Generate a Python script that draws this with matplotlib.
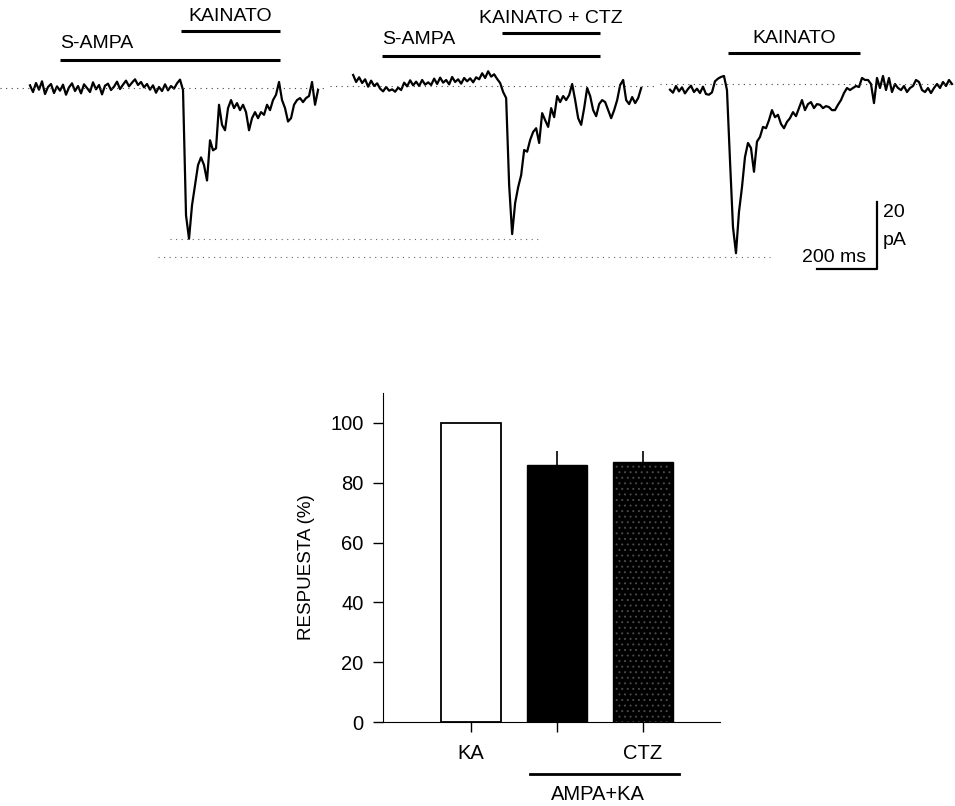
import numpy as np
import matplotlib
matplotlib.use("Agg")
import matplotlib.pyplot as plt

plt.rcParams['font.family'] = ['Liberation Sans', 'DejaVu Sans']
plt.rcParams['hatch.linewidth'] = 0.7

"""Data"""
# current traces, pA, one sample every 10 ms
dt = 10.0
trace_ka = [0.8, -1.2, 1.5, -0.5, 2.0, -1.8, 0.3, 1.2, -1.5, 0.5, -0.8, 1.0, -2.0, 0.2,
            1.4, -0.9, 0.6, -1.6, 1.1, 0.0, -1.2, 1.7, -0.4, 0.9, -1.9, 0.7, 1.3, -0.6,
            0.4, 1.9, -0.3, 1.0, 2.2, 0.5, 1.6, 2.6, 0.9, 1.8, 0.2, 1.2, -0.5, 0.8, -1.4,
            0.3, -0.9, 1.1, -0.7, 0.6, -0.2, 1.4, 2.5,
            -0.6, -38, -45, -35, -29, -23, -20.7, -23, -27.6, -15.6, -18.6, -18, -5, -11,
            -12.6, -6, -3.6, -6, -4.5, -6.6, -5, -7.2, -12.6, -9, -7.2, -9, -7.2, -8, -5,
            -6.6, -3.6, -2, 1.8, -3.6, -6, -10, -9, -5, -3.6, -3, -4.2, -3, -2.4, 1.8, -5,
            -0.6]
trace_ctz = [3.9, 1.8, 3.2, 1.5, 2.6, 0.4, 2.2, 0.6, 1.4, -0.2, -1.0, 0.3, -0.8, -0.4,
             -1.1, 0.1, -0.6, 1.6, 0.5, 2.3, 0.8, 1.9, 0.6, 2.4, 1.0, 1.7, 0.9, 2.8, 1.2,
             3.1, 1.6, 2.4, 1.1, 3.3, 1.8, 2.6, 1.3, 3.0, 2.0, 2.9, 1.7, 3.2, 2.6, 4.4, 3.0,
             5.0, 3.4, 4.1, 2.7, 1.5,
             -1.2, -3, -29, -43.6, -34.3, -29.6, -26, -18.5, -19, -15.5, -13.1, -12, -16.4,
             -7.5, -9.6, -11.6, -6, -8.7, -2.4, -4.2, -2.4, -3.6, -2.1, 1.2, -3.6, -9, -11,
             -6, 0, -2.4, -6.6, -8.4, -4.8, -3.6, -4.2, -6.6, -9, -6.6, -3.6, 0.9, 2.4,
             -3.6, -4.8, -2.7, -4.5, -3, 0]
trace_ka2 = [-0.5, -1.4, 0.6, -1.0, 0.2, -1.6, -0.3, 0.7, -1.2, -0.2, -1.5, 0.4, -1.8,
             -2.0, -1.3, 2.0, 2.8, 3.3, 3.6,
             -0.6, -21.5, -41.5, -49.3, -37, -29.6, -20.6, -16.4, -17.9, -25, -16, -14.6,
             -11.6, -12, -9.6, -6.6, -8.7, -8, -10.7, -12, -10.1, -9, -7.2, -8.4, -6,
             -3.6, -6.6, -4.8, -4.2, -6, -4.8, -5, -6, -5.4, -5.7, -6.6, -6.6, -5, -3.6,
             -1.5, 0, -0.6, 0, 0.6, 0.3, 3, 2.4, 2.4, 1.2, -4.5, 3, 0, 3.6, -0.6, 3, -1.2,
             1.2, 0, -0.6, 0.6, -1.2, 0, 0.6, 2.4, 1.8, -0.6, -1.2, 0, -1.5, 0, 1.2, 0,
             1.8, 0.6, 2.4, 1.2]
traces = [trace_ka, trace_ctz, trace_ka2]
trace_start = [100, 1177, 2233]          # ms
baselines = [0.0, 0.6, 1.2]              # pA
peak_levels = [-45.1, -50.4]             # pA

# drug application bars: (label, start ms, end ms, level pA)
applications = [("S-AMPA", 200, 933, 8.4), ("KAINATO", 603, 933, 17.0),
                ("S-AMPA", 1273, 2000, 9.6), ("KAINATO + CTZ", 1673, 2000, 16.4),
                ("KAINATO", 2427, 2867, 10.4)]
scale_ms = 200
scale_pa = 20

# summary bars
bar_labels = ["KA", "", "CTZ"]
bar_values = [100, 86, 87]
bar_errors = [0, 4.5, 3.5]

fig = plt.figure(figsize=(9.55, 8.06), dpi=100)

"""Top: traces"""
ax = fig.add_axes([0, 0.6526, 1, 0.3474])
ax.set_xlim(0, 3183)
ax.set_ylim(-57.3, 26.27)
ax.axis("off")

for vals, t0 in zip(traces, trace_start):
    t = t0 + dt * np.arange(len(vals))
    ax.plot(t, vals, color="black", lw=1.6)

dot = (0, (1, 4))
ax.plot([0, 1083], [baselines[0]] * 2, color="#444", lw=0.8, ls=dot)
ax.plot([1100, 2183], [baselines[1]] * 2, color="#444", lw=0.8, ls=dot)
ax.plot([2200, 3183], [baselines[2]] * 2, color="#444", lw=0.8, ls=dot)
ax.plot([567, 1793], [peak_levels[0]] * 2, color="#666", lw=0.8, ls=dot)
ax.plot([527, 2567], [peak_levels[1]] * 2, color="#666", lw=0.8, ls=dot)

for label, t_on, t_off, lev in applications:
    ax.plot([t_on, t_off], [lev, lev], color="black", lw=2.2, solid_capstyle="butt")
    if label == "S-AMPA":
        ax.text(t_on, lev + 5.0, label, ha="left", va="center", fontsize=14)
    else:
        ax.text((t_on + t_off) / 2, lev + 4.4, label, ha="center", va="center", fontsize=14)

# scale bar
sx, sy = 2923, -54
ax.plot([sx - scale_ms, sx, sx], [sy, sy, sy + scale_pa], color="black", lw=1.6)
ax.text(sx + 20, sy + 16.7, "20", ha="left", va="center", fontsize=14)
ax.text(sx + 20, sy + 8.6, "pA", ha="left", va="center", fontsize=14)
ax.text(sx - 36, sy + 3.3, "200 ms", ha="right", va="center", fontsize=14)

"""Bottom: bar chart"""
bx = fig.add_axes([0.401, 0.1042, 0.353, 0.4082])
pos = np.arange(len(bar_values))
bx.bar(pos[0], bar_values[0], width=0.70, color="white", edgecolor="black", lw=1.3)
bx.bar(pos[1], bar_values[1], width=0.70, color="black", edgecolor="black", lw=1.0)
bx.bar(pos[2], bar_values[2], width=0.70, color="black", edgecolor="black", lw=1.0)
bx.bar(pos[2], bar_values[2], width=0.66, color="none", edgecolor="#4a4a4a", lw=0, hatch="...")
bx.errorbar(pos[1:], bar_values[1:], yerr=[[0, 0], bar_errors[1:]], fmt="none",
            ecolor="black", elinewidth=1.2, capsize=0)

bx.set_xlim(-1.023, 2.895)
bx.set_ylim(0, 110)
bx.set_yticks([0, 20, 40, 60, 80, 100])
bx.set_xticks(pos)
bx.set_xticklabels(bar_labels)
bx.tick_params(axis="both", direction="out", length=7, width=1.0, labelsize=14.5)
bx.tick_params(axis="x", pad=9)
bx.tick_params(axis="y", pad=7)
bx.spines["top"].set_visible(False)
bx.spines["right"].set_visible(False)
bx.set_ylabel("RESPUESTA (%)", fontsize=13.5)
bx.yaxis.set_label_coords(-0.202, 0.47)

bx.plot([0.686, 2.42], [-17.4, -17.4], color="black", lw=2.0, clip_on=False)
bx.text(1.477, -24.4, "AMPA+KA", ha="center", va="center", fontsize=14.5, clip_on=False)

fig.savefig("out.png", dpi=100)
